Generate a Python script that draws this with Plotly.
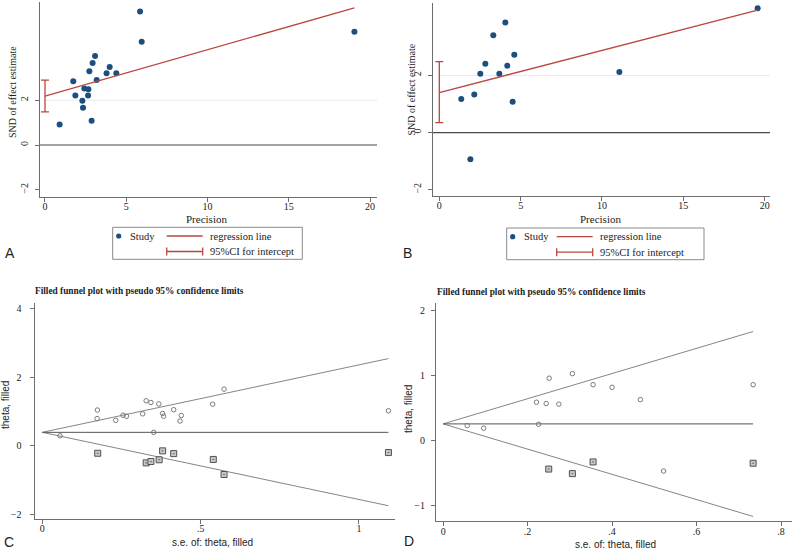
import plotly.graph_objects as go

W, H = 800, 549

# ---------------- data ----------------
# Panel A (Egger regression)
a_precision = [5.85, 5.95, 19.04, 3.08, 2.93, 3.98, 2.73, 3.79, 4.39, 3.18, 1.74,
               2.42, 2.67, 1.87, 2.65, 2.30, 2.34, 2.87, 0.90]
a_snd = [5.96, 4.61, 5.05, 3.97, 3.66, 3.48, 3.29, 3.20, 3.20, 2.90, 2.84,
         2.52, 2.49, 2.21, 2.21, 1.97, 1.66, 1.08, 0.92]
a_reg_x = [0, 19.04]
a_reg_y = [2.18, 6.12]
a_ci = [1.48, 2.89]

# Panel B (Egger regression)
b_precision = [19.57, 4.06, 3.32, 4.61, 2.83, 4.18, 2.52, 3.69, 11.07, 2.15, 1.35, 4.51, 1.91]
b_snd = [4.35, 3.85, 3.40, 2.72, 2.41, 2.34, 2.06, 2.06, 2.12, 1.33, 1.17, 1.08, -0.93]
b_reg_x = [0, 19.57]
b_reg_y = [1.40, 4.28]
b_ci = [0.35, 2.48]

# Panel C (filled funnel)
c_obs_se = [0.056, 0.174, 0.173, 0.232, 0.255, 0.266, 0.317, 0.328, 0.343, 0.352,
            0.368, 0.380, 0.383, 0.415, 0.435, 0.439, 0.538, 0.574, 1.093]
c_obs_theta = [0.29, 1.04, 0.79, 0.74, 0.89, 0.86, 0.93, 1.31, 1.26, 0.39,
               1.22, 0.94, 0.86, 1.05, 0.72, 0.88, 1.21, 1.65, 1.02]
c_fill_se = [0.175, 0.328, 0.343, 0.369, 0.380, 0.415, 0.540, 0.574, 1.093]
c_fill_theta = [-0.22, -0.50, -0.46, -0.41, -0.15, -0.23, -0.40, -0.84, -0.20]
c_line_se = [0, 1.093]
c_center = [0.39, 0.39]
c_upper = [0.39, 2.54]
c_lower = [0.39, -1.75]

# Panel D (filled funnel)
d_obs_se = [0.057, 0.096, 0.221, 0.226, 0.244, 0.251, 0.274, 0.306, 0.355, 0.400,
            0.467, 0.522, 0.734]
d_obs_theta = [0.23, 0.19, 0.59, 0.25, 0.57, 0.96, 0.56, 1.03, 0.86, 0.82,
               0.63, -0.47, 0.86]
d_fill_se = [0.250, 0.306, 0.355, 0.734]
d_fill_theta = [-0.44, -0.51, -0.33, -0.35]
d_line_se = [0, 0.734]
d_center = [0.256, 0.256]
d_upper = [0.256, 1.68]
d_lower = [0.256, -1.17]

a_yticks = [-2, 0, 2]
a_xticks = [0, 5, 10, 15, 20]
c_yticks = [-2, 0, 2, 4]
c_xticks = [0, 0.5, 1]
c_xticklabels = ["0", ".5", "1"]
d_yticks = [-1, 0, 1, 2]
d_xticks = [0, 0.2, 0.4, 0.6, 0.8]
d_xticklabels = ["0", ".2", ".4", ".6", ".8"]

# ---------------- styling ----------------
NAVY = "#1b4f7e"
RED = "#b9473f"
AXC = "#6e6e6e"
GRAY = "#858585"
SERIF = "Liberation Serif"
SANS = "Liberation Sans"
TXT = "#222222"


def px(x):
    return x / W


def py(y):
    return 1 - y / H


fig = go.Figure()

# Panel A traces
fig.add_trace(go.Scatter(x=a_precision, y=a_snd, mode="markers",
                         marker=dict(color=NAVY, size=6), xaxis="x", yaxis="y",
                         showlegend=False))
fig.add_trace(go.Scatter(x=a_reg_x, y=a_reg_y, mode="lines",
                         line=dict(color=RED, width=1.3), xaxis="x", yaxis="y",
                         showlegend=False))
fig.add_trace(go.Scatter(x=[0], y=[(a_ci[0] + a_ci[1]) / 2], mode="markers",
                         marker=dict(size=1, color="rgba(0,0,0,0)"),
                         error_y=dict(type="data", symmetric=False,
                                      array=[a_ci[1] - (a_ci[0] + a_ci[1]) / 2],
                                      arrayminus=[(a_ci[0] + a_ci[1]) / 2 - a_ci[0]],
                                      color=RED, thickness=1.3, width=4),
                         xaxis="x", yaxis="y", showlegend=False))

# Panel B traces
fig.add_trace(go.Scatter(x=b_precision, y=b_snd, mode="markers",
                         marker=dict(color=NAVY, size=6), xaxis="x2", yaxis="y2",
                         showlegend=False))
fig.add_trace(go.Scatter(x=b_reg_x, y=b_reg_y, mode="lines",
                         line=dict(color=RED, width=1.3), xaxis="x2", yaxis="y2",
                         showlegend=False))
fig.add_trace(go.Scatter(x=[0], y=[(b_ci[0] + b_ci[1]) / 2], mode="markers",
                         marker=dict(size=1, color="rgba(0,0,0,0)"),
                         error_y=dict(type="data", symmetric=False,
                                      array=[b_ci[1] - (b_ci[0] + b_ci[1]) / 2],
                                      arrayminus=[(b_ci[0] + b_ci[1]) / 2 - b_ci[0]],
                                      color=RED, thickness=1.3, width=4),
                         xaxis="x2", yaxis="y2", showlegend=False))

# Panel C traces
for ys, col in ((c_upper, GRAY), (c_lower, GRAY), (c_center, "#555555")):
    fig.add_trace(go.Scatter(x=c_line_se, y=ys, mode="lines",
                             line=dict(color=col, width=1), xaxis="x3", yaxis="y3",
                             showlegend=False))
fig.add_trace(go.Scatter(x=c_obs_se, y=c_obs_theta, mode="markers",
                         marker=dict(symbol="circle-open", size=4.5, color="#7a7a7a",
                                     line=dict(color="#7a7a7a", width=1)),
                         xaxis="x3", yaxis="y3", showlegend=False))
fig.add_trace(go.Scatter(x=c_fill_se, y=c_fill_theta, mode="markers",
                         marker=dict(symbol="square-dot", size=6, color="#c8c8c8",
                                     line=dict(color="#505050", width=1)),
                         xaxis="x3", yaxis="y3", showlegend=False))

# Panel D traces
for ys, col in ((d_upper, GRAY), (d_lower, GRAY), (d_center, "#555555")):
    fig.add_trace(go.Scatter(x=d_line_se, y=ys, mode="lines",
                             line=dict(color=col, width=1), xaxis="x4", yaxis="y4",
                             showlegend=False))
fig.add_trace(go.Scatter(x=d_obs_se, y=d_obs_theta, mode="markers",
                         marker=dict(symbol="circle-open", size=4.5, color="#7a7a7a",
                                     line=dict(color="#7a7a7a", width=1)),
                         xaxis="x4", yaxis="y4", showlegend=False))
fig.add_trace(go.Scatter(x=d_fill_se, y=d_fill_theta, mode="markers",
                         marker=dict(symbol="square-dot", size=6, color="#c8c8c8",
                                     line=dict(color="#505050", width=1)),
                         xaxis="x4", yaxis="y4", showlegend=False))


def axis(dom, rng, tickvals, ticktext=None, angle=0, anchor=None, standoff=None):
    d = dict(domain=dom, range=rng, tickvals=tickvals, showline=True,
             linecolor=AXC, linewidth=1, ticks="outside", ticklen=4,
             tickcolor=AXC, tickwidth=1, showgrid=False, zeroline=False,
             tickfont=dict(family=SERIF, size=10, color=TXT), tickangle=angle,
             anchor=anchor, fixedrange=True)
    if ticktext is not None:
        d["ticktext"] = ticktext
    if standoff is not None:
        d["ticklabelstandoff"] = standoff
    return d


layout = dict(
    width=W, height=H, margin=dict(l=0, r=0, t=0, b=0),
    paper_bgcolor="white", plot_bgcolor="white", showlegend=False,
    xaxis=axis([px(39.5), px(377)], [-0.338, 20.43], a_xticks, anchor="y", standoff=-4),
    yaxis=axis([py(197), py(2)], [-2.32, 6.38], a_yticks, angle=-90, anchor="x", standoff=3),
    xaxis2=axis([px(433), px(770)], [-0.387, 20.33], a_xticks, anchor="y2", standoff=-4),
    yaxis2=axis([py(195.5), py(3)], [-2.2, 4.53], a_yticks, angle=-90, anchor="x2", standoff=3),
    xaxis3=axis([px(34.5), px(395)], [-0.0246, 1.1138], c_xticks, c_xticklabels,
                anchor="y3", standoff=-4),
    yaxis3=axis([py(519), py(302.7)], [-2.137, 4.17], c_yticks, anchor="x3", standoff=6),
    xaxis4=axis([px(436), px(791.7)], [-0.0169, 0.8253], d_xticks, d_xticklabels,
                anchor="y4", standoff=-3),
    yaxis4=axis([py(521), py(303.3)], [-1.24, 2.114], d_yticks, anchor="x4", standoff=4),
)
fig.update_layout(**layout)

shapes = []
# grid line at y=2 and reference line at y=0 (A and B)
for xa, ya, xmax in (("x", "y", 20.43), ("x2", "y2", 20.33)):
    shapes.append(dict(type="line", xref=xa, yref=ya, x0=0, x1=xmax, y0=2, y1=2,
                       line=dict(color="#e3ebf2", width=1), layer="below"))
    shapes.append(dict(type="line", xref=xa + " domain", yref=ya, x0=0, x1=1, y0=0, y1=0,
                       line=dict(color="#4a4a4a", width=1.2), layer="below"))

annotations = []


def ann(x, y, text, size, family=SERIF, xanchor="center", textangle=0, bold=False):
    annotations.append(dict(x=px(x), y=py(y), xref="paper", yref="paper",
                            text=("<b>%s</b>" % text) if bold else text,
                            showarrow=False, xanchor=xanchor, yanchor="middle",
                            textangle=textangle,
                            font=dict(family=family, size=size, color=TXT)))


# legends for A and B
for bx0, bx1, by0, by1, loff in ((112.7, 302.3, 227.3, 259.3, 0), (506.7, 704, 228, 259.7, -4)):
    shapes.append(dict(type="rect", xref="paper", yref="paper", x0=px(bx0), x1=px(bx1),
                       y0=py(by1), y1=py(by0), line=dict(color="#8a8a8a", width=1)))
    r1 = by0 + 8.7
    r2 = by0 + 24.2
    cx = bx0 + 6
    shapes.append(dict(type="circle", xref="paper", yref="paper",
                       x0=px(cx - 2.6), x1=px(cx + 2.6), y0=py(r1 + 2.6), y1=py(r1 - 2.6),
                       fillcolor=NAVY, line=dict(color=NAVY, width=0)))
    ann(bx0 + 15, r1, "Study", 10.5, xanchor="left")
    lx0 = bx0 + 54 + loff
    lx1 = bx0 + 90 + loff
    shapes.append(dict(type="line", xref="paper", yref="paper", x0=px(lx0), x1=px(lx1),
                       y0=py(r1), y1=py(r1), line=dict(color=RED, width=1.3)))
    shapes.append(dict(type="line", xref="paper", yref="paper", x0=px(lx0), x1=px(lx1),
                       y0=py(r2), y1=py(r2), line=dict(color=RED, width=1.3)))
    for xx in (lx0, lx1):
        shapes.append(dict(type="line", xref="paper", yref="paper", x0=px(xx), x1=px(xx),
                           y0=py(r2 - 4), y1=py(r2 + 4), line=dict(color=RED, width=1.3)))
    ann(lx1 + 5, r1, "regression line", 10.5, xanchor="left")
    ann(lx1 + 5, r2, "95%CI for intercept", 10.5, xanchor="left")

# axis titles
ann(206, 218.5, "Precision", 11)
ann(600, 218.5, "Precision", 11)
ann(12, 92, "SND of effect estimate", 10, textangle=-90)
ann(411.5, 90, "SND of effect estimate", 10, textangle=-90)

ann(139, 290.5, "Filled funnel plot with pseudo 95% confidence limits", 9.3, bold=True)
ann(541, 292, "Filled funnel plot with pseudo 95% confidence limits", 9.3, bold=True)
ann(212.5, 542, "s.e. of: theta, filled", 10, family=SANS)
ann(615, 544.5, "s.e. of: theta, filled", 10, family=SANS)
ann(5, 405, "theta, filled", 10, family=SANS, textangle=-90)
ann(408, 409, "theta, filled", 10, family=SANS, textangle=-90)

# panel letters
ann(2.5, 253.5, "A", 14, family=SANS, xanchor="left")
ann(401, 253, "B", 14, family=SANS, xanchor="left")
ann(2, 542, "C", 14, family=SANS, xanchor="left")
ann(402, 541, "D", 14, family=SANS, xanchor="left")

fig.update_layout(shapes=shapes, annotations=annotations)
fig.write_html("out.html",
               config={"displayModeBar": False},
               post_script="document.body.style.margin='0px';"
                           "document.body.style.overflow='hidden';")
